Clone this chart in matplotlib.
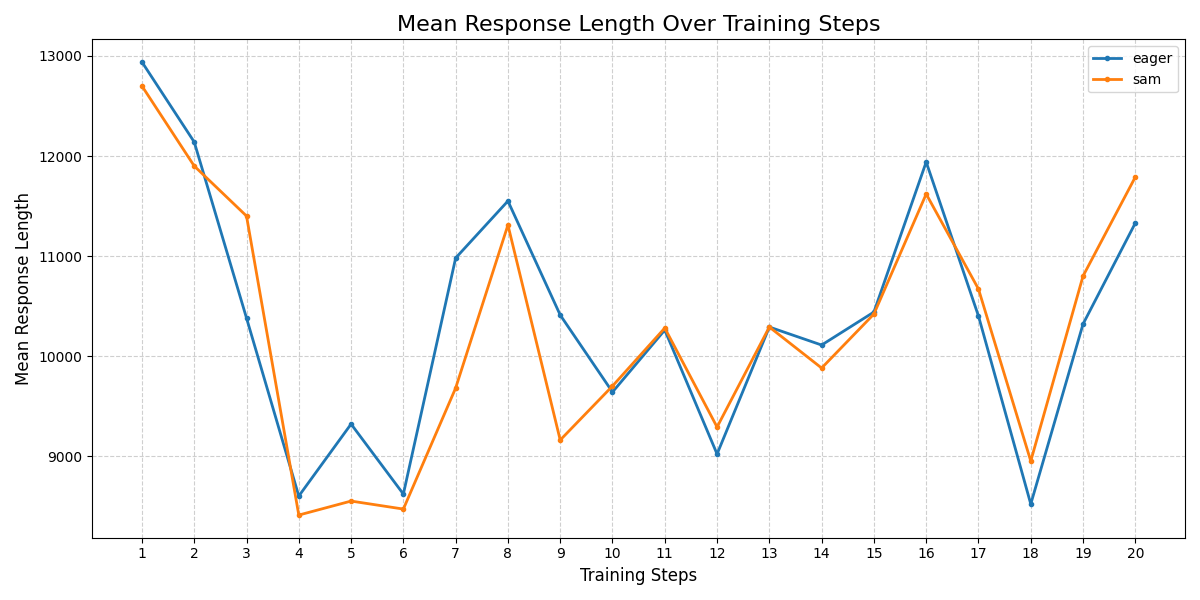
import matplotlib.pyplot as plt

steps = list(range(1, 21))
eager = [12940, 12140, 10380, 8600, 9320, 8620, 10980, 11550, 10410, 9640,
         10260, 9020, 10290, 10110, 10440, 11940, 10400, 8520, 10320, 11330]
sam = [12700, 11900, 11400, 8410, 8550, 8470, 9680, 11310, 9160, 9700,
       10280, 9290, 10290, 9880, 10420, 11620, 10670, 8950, 10800, 11790]

fig, ax = plt.subplots(figsize=(12, 6), dpi=100)
ax.plot(steps, eager, marker="o", markersize=3, linewidth=2, label="eager")
ax.plot(steps, sam, marker="o", markersize=3, linewidth=2, label="sam")

ax.set_title("Mean Response Length Over Training Steps", fontsize=16)
ax.set_xlabel("Training Steps", fontsize=12)
ax.set_ylabel("Mean Response Length", fontsize=12)
ax.set_xticks(steps)
ax.grid(True, linestyle="--", alpha=0.6)
ax.legend(loc="upper right")
plt.tight_layout()
plt.savefig("out.png", dpi=100)
